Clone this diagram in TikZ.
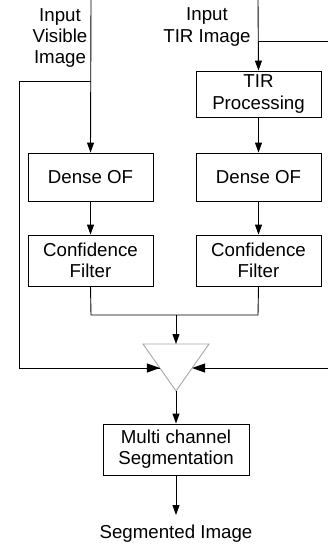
\documentclass[tikz,border=0pt]{standalone}
\usepackage{fontspec}
\setmainfont{Liberation Sans}
\usetikzlibrary{arrows.meta}
\begin{document}
\begin{tikzpicture}[x=1pt,y=-1pt,
  font=\fontsize{18.7pt}{21.3pt}\selectfont,
  box/.style={draw,line width=0.9pt,align=center,inner sep=0pt},
  lbl/.style={align=center,inner sep=0pt},
  ln/.style={line width=0.9pt},
  arr/.style={ln,-{Triangle[length=10pt,width=7pt]}},
  harr/.style={ln,-{Triangle[length=13pt,width=9pt]}}]
\useasboundingbox (0,0) rectangle (328,546);
% texts
\node[lbl] (vis) at (60,38) {Input\\Visible\\Image};
\node[lbl] (tir) at (207,27) {Input\\TIR Image};
\node[lbl] (seg) at (176,534) {Segmented Image};
% boxes
\node[box,minimum width=125pt,minimum height=46pt] (tirp) at (258.5,94) {TIR\\Processing};
\node[box,minimum width=125pt,minimum height=48pt] (dof1) at (90.5,177) {Dense OF};
\node[box,minimum width=125pt,minimum height=48pt] (dof2) at (258.5,177) {Dense OF};
\node[box,minimum width=125pt,minimum height=51pt] (cf1) at (90.5,260.5) {Confidence\\Filter};
\node[box,minimum width=125pt,minimum height=51pt] (cf2) at (258.5,260.5) {Confidence\\Filter};
\node[box,minimum width=146pt,minimum height=51pt] (mcs) at (176,449.5) {Multi channel\\Segmentation};
% triangle
\coordinate (ta) at (143,344);
\coordinate (tb) at (209,344);
\coordinate (tc) at (176,391);
\coordinate (ttop) at (176,344);
\coordinate (tl) at (159.9,368);
\coordinate (tr) at (192.1,368);
\draw[line width=0.9pt,gray!70] (ta) -- (tb) -- (tc) -- cycle;
% coordinates for connectors
\coordinate (vtop) at (91,0);
\coordinate (vbr) at (91,81);
\coordinate (lc1) at (19,81);
\coordinate (lc2) at (19,368);
\coordinate (rtop) at (258,0);
\coordinate (rbr) at (258,41);
\coordinate (redge) at (328,41);
\coordinate (redge2) at (328,368);
\coordinate (j1) at (91,315);
\coordinate (j2) at (258,315);
\coordinate (jm) at (176,315);
\coordinate (out) at (176,515);
% connectors
\draw[arr] (vtop) -- (dof1.north);
\draw[ln] (vbr) -- (lc1) -- (lc2) -- (tl);
\draw[harr] (lc2) -- (tl);
\draw[arr] (rtop) -- (tirp.north);
\draw[ln] (rbr) -- (redge);
\draw[harr] (redge2) -- (tr);
\draw[arr] (tirp.south) -- (dof2.north);
\draw[arr] (dof1.south) -- (cf1.north);
\draw[arr] (dof2.south) -- (cf2.north);
\draw[ln] (cf1.south) -- (j1) -- (j2) -- (cf2.south);
\draw[arr] (jm) -- (ttop);
\draw[arr] (tc) -- (mcs.north);
\draw[arr] (mcs.south) -- (out);
\end{tikzpicture}
\end{document}
